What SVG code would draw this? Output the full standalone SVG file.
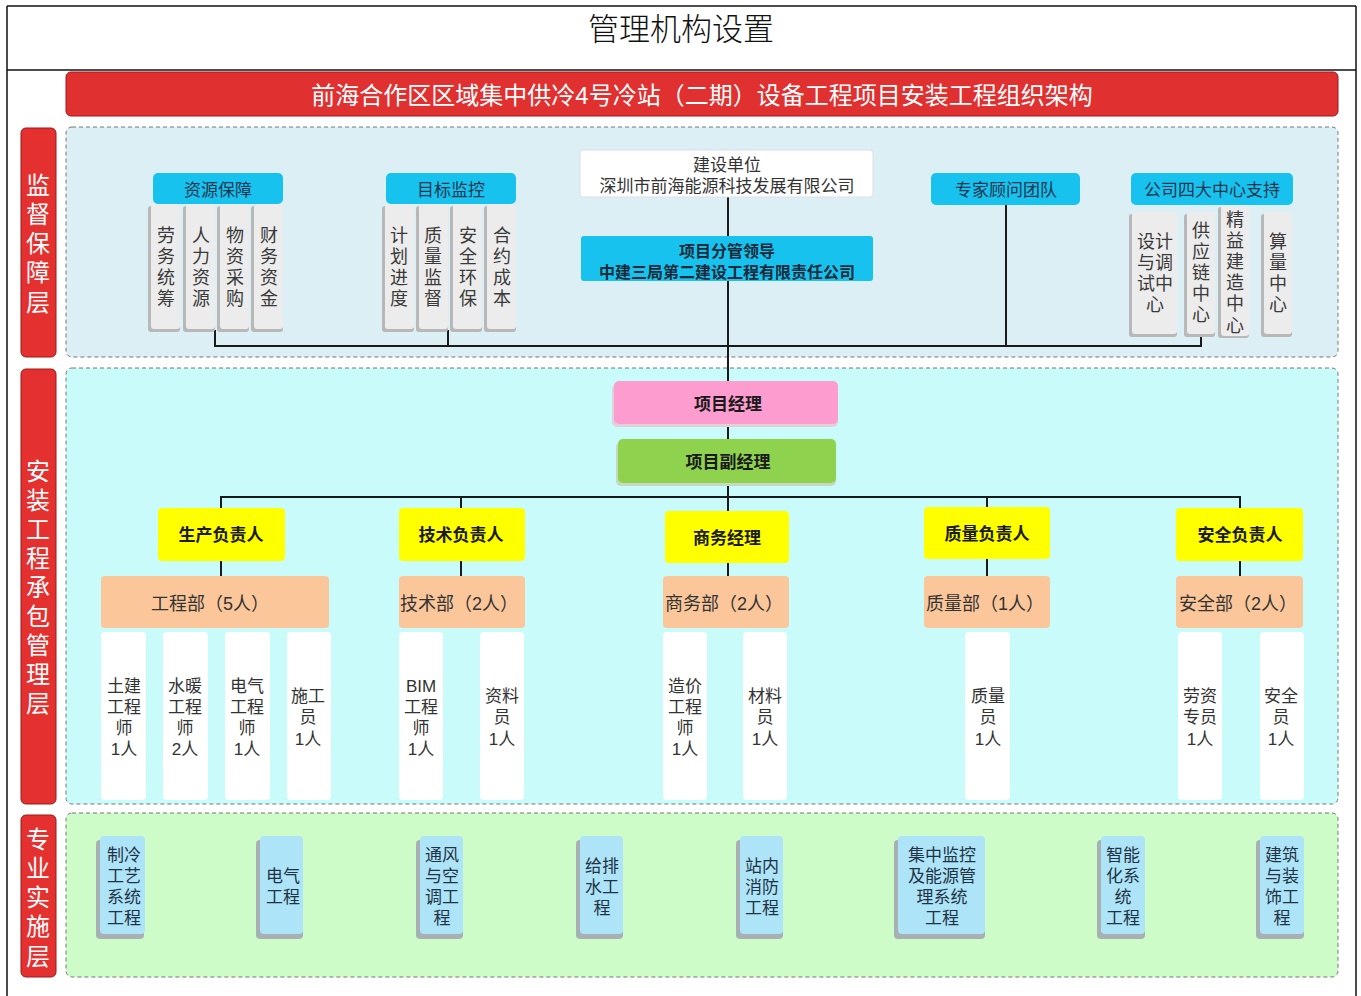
<svg xmlns="http://www.w3.org/2000/svg" width="1361" height="996" viewBox="0 0 1361 996">
<style>
text{font-family:"Liberation Sans","Noto Sans CJK SC",sans-serif;text-anchor:middle;dominant-baseline:central;transform:translate(0px,1.5px)}
.frame{stroke:#111;stroke-width:1.5;fill:none}
.lbl{fill:#e53030;stroke:#9a1a1a;stroke-width:1}
.lbltxt{fill:#fff;font-size:24px}
.panel{stroke:#777;stroke-width:1;stroke-dasharray:4 3}
.hdr{fill:#17c3ee}
.hdrtxt{fill:#1a3550;font-size:17px}
.gray{fill:#ececec}
.sh{fill:#b8b8b8}
.gtxt{fill:#3a3a3a;font-size:18px}
.conn{stroke:#1a1a1a;stroke-width:2;fill:none}
.yel{fill:#ffff00}
.org{fill:#fbc79a}
.wh{fill:#ffffff}
.btxt{fill:#1a1a1a;font-size:17px;font-weight:bold}
.otxt{fill:#333;font-size:18px}
.wtxt{fill:#333;font-size:17px}
.blu{fill:#aee4f8}
.bshd{fill:#a9b0b4}
.blutxt{fill:#1f3345;font-size:17px}
</style>
<rect width="1361" height="996" fill="#fff"/>
<g id="frame">
<line class="frame" x1="7" y1="6" x2="1356" y2="6"/>
<line class="frame" x1="7" y1="70" x2="1356" y2="70"/>
<line class="frame" x1="7" y1="6" x2="7" y2="996"/>
<line class="frame" x1="1356" y1="6" x2="1356" y2="996"/>
<text x="681" y="28" style="font-size:31px;font-weight:300;fill:#111">管理机构设置</text>
</g>
<g id="banner">
<rect x="66" y="72" width="1272" height="44" rx="5" fill="#e0302f" stroke="#a01818"/>
<text x="702" y="94" style="font-size:24px;fill:#fff">前海合作区区域集中供冷4号冷站（二期）设备工程项目安装工程组织架构</text>
</g>
<g id="panels">
<rect class="panel" x="66" y="127" width="1272" height="230" rx="6" fill="#dceff5"/>
<rect class="panel" x="66" y="368" width="1272" height="436" rx="6" fill="#c9fbfb"/>
<rect class="panel" x="66" y="813" width="1272" height="164" rx="6" fill="#cdfcc8"/>
</g>
<g id="layer-labels">
<rect class="lbl" x="21" y="128" width="35" height="229" rx="5"/>
<text class="lbltxt"><tspan x="38" y="183">监</tspan><tspan x="38" dy="29.25">督</tspan><tspan x="38" dy="29.25">保</tspan><tspan x="38" dy="29.25">障</tspan><tspan x="38" dy="29.25">层</tspan></text>
<rect class="lbl" x="21" y="369" width="35" height="435" rx="5"/>
<text class="lbltxt"><tspan x="38" y="469">安</tspan><tspan x="38" dy="29.1">装</tspan><tspan x="38" dy="29.1">工</tspan><tspan x="38" dy="29.1">程</tspan><tspan x="38" dy="29.1">承</tspan><tspan x="38" dy="29.1">包</tspan><tspan x="38" dy="29.1">管</tspan><tspan x="38" dy="29.1">理</tspan><tspan x="38" dy="29.1">层</tspan></text>
<rect class="lbl" x="21" y="815" width="35" height="162" rx="5"/>
<text class="lbltxt"><tspan x="38" y="837">专</tspan><tspan x="38" dy="29.25">业</tspan><tspan x="38" dy="29.25">实</tspan><tspan x="38" dy="29.25">施</tspan><tspan x="38" dy="29.25">层</tspan></text>
</g>
<g id="connectors">
<polyline class="conn" points="215,330 215,346 1201,346 1201,335"/>
<line class="conn" x1="448" y1="330" x2="448" y2="346"/>
<line class="conn" x1="1006" y1="205" x2="1006" y2="346"/>
<line class="conn" x1="728" y1="197" x2="728" y2="381"/>
<line class="conn" x1="728" y1="424" x2="728" y2="439"/>
<line class="conn" x1="728" y1="483" x2="728" y2="511"/>
<polyline class="conn" points="221,508 221,497 1240,497 1240,508"/>
<line class="conn" x1="461" y1="497" x2="461" y2="508"/>
<line class="conn" x1="987" y1="497" x2="987" y2="507"/>
<line class="conn" x1="221" y1="561" x2="221" y2="576"/>
<line class="conn" x1="461" y1="561" x2="461" y2="576"/>
<line class="conn" x1="728" y1="563" x2="728" y2="576"/>
<line class="conn" x1="987" y1="559" x2="987" y2="576"/>
<line class="conn" x1="1240" y1="561" x2="1240" y2="576"/>
</g>
<g id="resource">
<rect class="sh" x="148" y="206" width="32" height="126" rx="3"/><rect class="gray" x="151" y="204" width="29" height="125" rx="3"/>
<rect class="sh" x="183" y="206" width="32" height="126" rx="3"/><rect class="gray" x="186" y="204" width="29" height="125" rx="3"/>
<rect class="sh" x="217" y="206" width="32" height="126" rx="3"/><rect class="gray" x="220" y="204" width="29" height="125" rx="3"/>
<rect class="sh" x="251" y="206" width="32" height="126" rx="3"/><rect class="gray" x="254" y="204" width="29" height="125" rx="3"/>
<rect class="hdr" x="153" y="173" width="130" height="31" rx="5"/>
<text class="hdrtxt" x="218" y="189">资源保障</text>
<text class="gtxt"><tspan x="166" y="234">劳</tspan><tspan x="166" dy="21">务</tspan><tspan x="166" dy="21">统</tspan><tspan x="166" dy="21">筹</tspan></text>
<text class="gtxt"><tspan x="201" y="234">人</tspan><tspan x="201" dy="21">力</tspan><tspan x="201" dy="21">资</tspan><tspan x="201" dy="21">源</tspan></text>
<text class="gtxt"><tspan x="235" y="234">物</tspan><tspan x="235" dy="21">资</tspan><tspan x="235" dy="21">采</tspan><tspan x="235" dy="21">购</tspan></text>
<text class="gtxt"><tspan x="269" y="234">财</tspan><tspan x="269" dy="21">务</tspan><tspan x="269" dy="21">资</tspan><tspan x="269" dy="21">金</tspan></text>
</g>
<g id="target">
<rect class="sh" x="382" y="206" width="32" height="126" rx="3"/><rect class="gray" x="385" y="204" width="29" height="125" rx="3"/>
<rect class="sh" x="416" y="206" width="32" height="126" rx="3"/><rect class="gray" x="419" y="204" width="29" height="125" rx="3"/>
<rect class="sh" x="450" y="206" width="32" height="126" rx="3"/><rect class="gray" x="453" y="204" width="29" height="125" rx="3"/>
<rect class="sh" x="484" y="206" width="32" height="126" rx="3"/><rect class="gray" x="487" y="204" width="29" height="125" rx="3"/>
<rect class="hdr" x="386" y="173" width="130" height="31" rx="5"/>
<text class="hdrtxt" x="451" y="189">目标监控</text>
<text class="gtxt"><tspan x="399" y="234">计</tspan><tspan x="399" dy="21">划</tspan><tspan x="399" dy="21">进</tspan><tspan x="399" dy="21">度</tspan></text>
<text class="gtxt"><tspan x="433" y="234">质</tspan><tspan x="433" dy="21">量</tspan><tspan x="433" dy="21">监</tspan><tspan x="433" dy="21">督</tspan></text>
<text class="gtxt"><tspan x="468" y="234">安</tspan><tspan x="468" dy="21">全</tspan><tspan x="468" dy="21">环</tspan><tspan x="468" dy="21">保</tspan></text>
<text class="gtxt"><tspan x="502" y="234">合</tspan><tspan x="502" dy="21">约</tspan><tspan x="502" dy="21">成</tspan><tspan x="502" dy="21">本</tspan></text>
</g>
<g id="owner">
<rect x="580" y="150" width="293" height="47" rx="3" fill="#fff" stroke="#dde"/>
<text style="font-size:17px;fill:#333"><tspan x="727" y="163">建设单位</tspan><tspan x="727" dy="21">深圳市前海能源科技发展有限公司</tspan></text>
</g>
<g id="leader">
<rect x="581" y="236" width="292" height="45" rx="3" fill="#17c3ee"/>
<text style="font-size:16px;font-weight:bold;fill:#1a2a3a"><tspan x="727" y="249">项目分管领导</tspan><tspan x="727" dy="21">中建三局第二建设工程有限责任公司</tspan></text>
</g>
<g id="experts">
<rect class="hdr" x="931" y="173" width="149" height="32" rx="5"/>
<text class="hdrtxt" x="1006" y="189">专家顾问团队</text>
</g>
<g id="centers">
<rect class="sh" x="1129" y="214" width="48" height="123" rx="3"/><rect class="gray" x="1132" y="212" width="45" height="122" rx="3"/>
<rect class="sh" x="1184" y="214" width="31" height="123" rx="3"/><rect class="gray" x="1187" y="212" width="28" height="122" rx="3"/>
<rect class="sh" x="1218" y="207" width="31" height="131" rx="3"/><rect class="gray" x="1221" y="205" width="28" height="131" rx="3"/>
<rect class="sh" x="1261" y="214" width="31" height="123" rx="3"/><rect class="gray" x="1264" y="212" width="28" height="122" rx="3"/>
<rect class="hdr" x="1131" y="173" width="162" height="32" rx="5"/>
<text class="hdrtxt" x="1212" y="189">公司四大中心支持</text>
<text class="gtxt"><tspan x="1155" y="240">设计</tspan><tspan x="1155" dy="21">与调</tspan><tspan x="1155" dy="21">试中</tspan><tspan x="1155" dy="21">心</tspan></text>
<text class="gtxt"><tspan x="1201" y="229">供</tspan><tspan x="1201" dy="21">应</tspan><tspan x="1201" dy="21">链</tspan><tspan x="1201" dy="21">中</tspan><tspan x="1201" dy="21">心</tspan></text>
<text class="gtxt"><tspan x="1235" y="218">精</tspan><tspan x="1235" dy="21.2">益</tspan><tspan x="1235" dy="21.2">建</tspan><tspan x="1235" dy="21.2">造</tspan><tspan x="1235" dy="21.2">中</tspan><tspan x="1235" dy="21.2">心</tspan></text>
<text class="gtxt"><tspan x="1278" y="240">算</tspan><tspan x="1278" dy="21">量</tspan><tspan x="1278" dy="21">中</tspan><tspan x="1278" dy="21">心</tspan></text>
</g>
<g id="pm">
<rect x="612" y="384" width="226" height="43" rx="5" fill="#e2d0d8"/>
<rect x="614" y="381" width="224" height="43" rx="5" fill="#fd9ccf"/>
<text class="btxt" x="728" y="403">项目经理</text>
</g>
<g id="dpm">
<rect x="616" y="442" width="220" height="44" rx="5" fill="#c8d8c0"/>
<rect x="618" y="439" width="218" height="44" rx="5" fill="#8fd24e"/>
<text class="btxt" x="728" y="461">项目副经理</text>
</g>
<g id="heads">
<rect class="yel" x="158" y="508" width="127" height="53" rx="4"/><text class="btxt" x="221" y="534">生产负责人</text>
<rect class="yel" x="399" y="508" width="126" height="53" rx="4"/><text class="btxt" x="461" y="534">技术负责人</text>
<rect class="yel" x="665" y="511" width="124" height="52" rx="4"/><text class="btxt" x="727" y="537">商务经理</text>
<rect class="yel" x="924" y="507" width="126" height="52" rx="4"/><text class="btxt" x="987" y="533">质量负责人</text>
<rect class="yel" x="1176" y="508" width="127" height="53" rx="4"/><text class="btxt" x="1240" y="534">安全负责人</text>
</g>
<g id="depts">
<rect class="org" x="101" y="576" width="228" height="52" rx="4"/><text class="otxt" x="210" y="602">工程部（5人）</text>
<rect class="org" x="399" y="576" width="126" height="52" rx="4"/><text class="otxt" x="459" y="602">技术部（2人）</text>
<rect class="org" x="663" y="576" width="126" height="52" rx="4"/><text class="otxt" x="724" y="602">商务部（2人）</text>
<rect class="org" x="924" y="576" width="126" height="52" rx="4"/><text class="otxt" x="985" y="602">质量部（1人）</text>
<rect class="org" x="1176" y="576" width="127" height="52" rx="4"/><text class="otxt" x="1238" y="602">安全部（2人）</text>
</g>
<g id="staff">
<rect class="wh" x="101" y="632" width="45" height="168" rx="4"/>
<text class="wtxt"><tspan x="124" y="684">土建</tspan><tspan x="124" dy="21.3">工程</tspan><tspan x="124" dy="21.3">师</tspan><tspan x="124" dy="21.3">1人</tspan></text>
<rect class="wh" x="163" y="632" width="45" height="168" rx="4"/>
<text class="wtxt"><tspan x="185" y="684">水暖</tspan><tspan x="185" dy="21.3">工程</tspan><tspan x="185" dy="21.3">师</tspan><tspan x="185" dy="21.3">2人</tspan></text>
<rect class="wh" x="225" y="632" width="45" height="168" rx="4"/>
<text class="wtxt"><tspan x="247" y="684">电气</tspan><tspan x="247" dy="21.3">工程</tspan><tspan x="247" dy="21.3">师</tspan><tspan x="247" dy="21.3">1人</tspan></text>
<rect class="wh" x="287" y="632" width="44" height="168" rx="4"/>
<text class="wtxt"><tspan x="308" y="694">施工</tspan><tspan x="308" dy="21.5">员</tspan><tspan x="308" dy="21.5">1人</tspan></text>
<rect class="wh" x="399" y="632" width="44" height="168" rx="4"/>
<text class="wtxt"><tspan x="421" y="684">BIM</tspan><tspan x="421" dy="21.3">工程</tspan><tspan x="421" dy="21.3">师</tspan><tspan x="421" dy="21.3">1人</tspan></text>
<rect class="wh" x="480" y="632" width="44" height="168" rx="4"/>
<text class="wtxt"><tspan x="502" y="694">资料</tspan><tspan x="502" dy="21.5">员</tspan><tspan x="502" dy="21.5">1人</tspan></text>
<rect class="wh" x="663" y="632" width="44" height="168" rx="4"/>
<text class="wtxt"><tspan x="685" y="684">造价</tspan><tspan x="685" dy="21.3">工程</tspan><tspan x="685" dy="21.3">师</tspan><tspan x="685" dy="21.3">1人</tspan></text>
<rect class="wh" x="743" y="632" width="44" height="168" rx="4"/>
<text class="wtxt"><tspan x="765" y="694">材料</tspan><tspan x="765" dy="21.5">员</tspan><tspan x="765" dy="21.5">1人</tspan></text>
<rect class="wh" x="965" y="632" width="45" height="168" rx="4"/>
<text class="wtxt"><tspan x="988" y="694">质量</tspan><tspan x="988" dy="21.5">员</tspan><tspan x="988" dy="21.5">1人</tspan></text>
<rect class="wh" x="1178" y="632" width="44" height="168" rx="4"/>
<text class="wtxt"><tspan x="1200" y="694">劳资</tspan><tspan x="1200" dy="21.5">专员</tspan><tspan x="1200" dy="21.5">1人</tspan></text>
<rect class="wh" x="1260" y="632" width="44" height="168" rx="4"/>
<text class="wtxt"><tspan x="1281" y="694">安全</tspan><tspan x="1281" dy="21.5">员</tspan><tspan x="1281" dy="21.5">1人</tspan></text>
</g>
<g id="trades">
<rect class="bshd" x="96" y="840" width="48" height="99" rx="4"/><rect class="blu" x="100" y="836" width="45" height="98" rx="4"/>
<text class="blutxt"><tspan x="124" y="853">制冷</tspan><tspan x="124" dy="21.3">工艺</tspan><tspan x="124" dy="21.3">系统</tspan><tspan x="124" dy="21.3">工程</tspan></text>
<rect class="bshd" x="256" y="840" width="47" height="99" rx="4"/><rect class="blu" x="260" y="836" width="43" height="98" rx="4"/>
<text class="blutxt"><tspan x="283" y="874">电气</tspan><tspan x="283" dy="21">工程</tspan></text>
<rect class="bshd" x="416" y="840" width="47" height="99" rx="4"/><rect class="blu" x="420" y="836" width="43" height="98" rx="4"/>
<text class="blutxt"><tspan x="442" y="853">通风</tspan><tspan x="442" dy="21.3">与空</tspan><tspan x="442" dy="21.3">调工</tspan><tspan x="442" dy="21.3">程</tspan></text>
<rect class="bshd" x="576" y="840" width="47" height="99" rx="4"/><rect class="blu" x="580" y="836" width="43" height="98" rx="4"/>
<text class="blutxt"><tspan x="602" y="864">给排</tspan><tspan x="602" dy="21">水工</tspan><tspan x="602" dy="21">程</tspan></text>
<rect class="bshd" x="736" y="840" width="47" height="99" rx="4"/><rect class="blu" x="740" y="836" width="43" height="98" rx="4"/>
<text class="blutxt"><tspan x="762" y="864">站内</tspan><tspan x="762" dy="21">消防</tspan><tspan x="762" dy="21">工程</tspan></text>
<rect class="bshd" x="894" y="840" width="91" height="99" rx="4"/><rect class="blu" x="898" y="836" width="87" height="98" rx="4"/>
<text class="blutxt"><tspan x="942" y="853">集中监控</tspan><tspan x="942" dy="21.3">及能源管</tspan><tspan x="942" dy="21.3">理系统</tspan><tspan x="942" dy="21.3">工程</tspan></text>
<rect class="bshd" x="1097" y="840" width="48" height="99" rx="4"/><rect class="blu" x="1101" y="836" width="44" height="98" rx="4"/>
<text class="blutxt"><tspan x="1123" y="853">智能</tspan><tspan x="1123" dy="21.3">化系</tspan><tspan x="1123" dy="21.3">统</tspan><tspan x="1123" dy="21.3">工程</tspan></text>
<rect class="bshd" x="1256" y="840" width="48" height="99" rx="4"/><rect class="blu" x="1260" y="836" width="44" height="98" rx="4"/>
<text class="blutxt"><tspan x="1282" y="853">建筑</tspan><tspan x="1282" dy="21.3">与装</tspan><tspan x="1282" dy="21.3">饰工</tspan><tspan x="1282" dy="21.3">程</tspan></text>
</g>
</svg>
